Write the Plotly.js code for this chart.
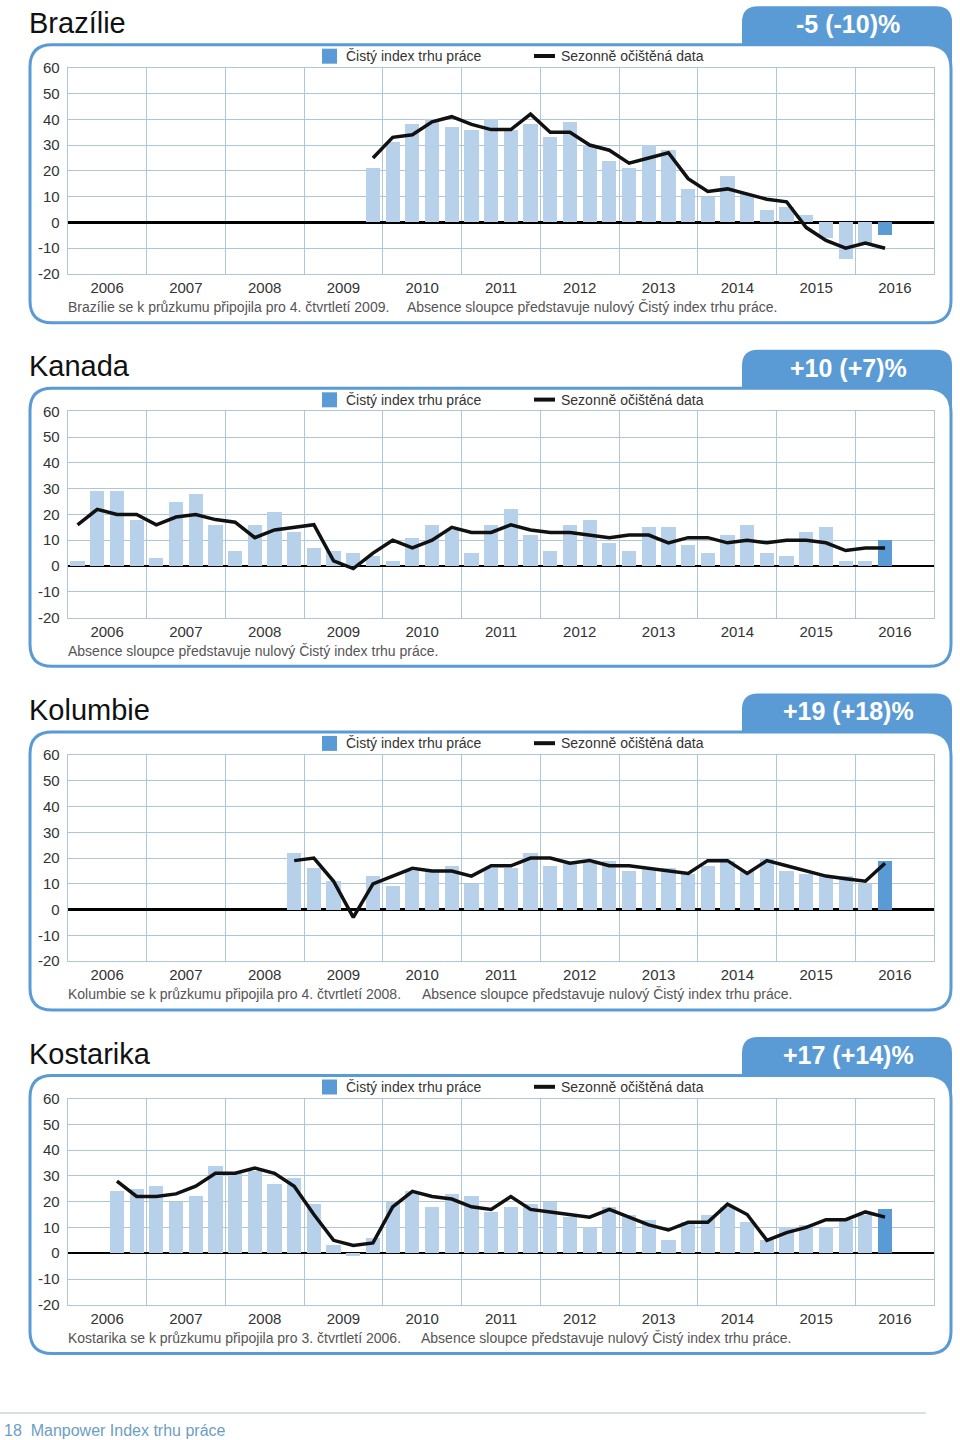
<!DOCTYPE html>
<html>
<head>
<meta charset="utf-8">
<script src="https://cdn.plot.ly/plotly-3.0.1.min.js"></script>
<style>html,body{margin:0;padding:0;background:#fff;}#chart{width:960px;height:1440px;}</style>
</head>
<body>
<div id="chart"></div>
<script>
// ---------- DATA ----------
const years = ['2006','2007','2008','2009','2010','2011','2012','2013','2014','2015','2016'];
const quarters = [
 '2006 Q1','2006 Q2','2006 Q3','2006 Q4','2007 Q1','2007 Q2','2007 Q3','2007 Q4',
 '2008 Q1','2008 Q2','2008 Q3','2008 Q4','2009 Q1','2009 Q2','2009 Q3','2009 Q4',
 '2010 Q1','2010 Q2','2010 Q3','2010 Q4','2011 Q1','2011 Q2','2011 Q3','2011 Q4',
 '2012 Q1','2012 Q2','2012 Q3','2012 Q4','2013 Q1','2013 Q2','2013 Q3','2013 Q4',
 '2014 Q1','2014 Q2','2014 Q3','2014 Q4','2015 Q1','2015 Q2','2015 Q3','2015 Q4',
 '2016 Q1','2016 Q2'];
const yTickVals = [-20, -10, 0, 10, 20, 30, 40, 50, 60];
const yTickText = ['-20', '-10', '0', '10', '20', '30', '40', '50', '60'];

const countries = ['Brazílie','Kanada','Kolumbie','Kostarika'];
const headline  = ['-5 (-10)%','+10 (+7)%','+19 (+18)%','+17 (+14)%'];
const footnoteJoined = [
 'Brazílie se k průzkumu připojila pro 4. čtvrtletí 2009.',
 '',
 'Kolumbie se k průzkumu připojila pro 4. čtvrtletí 2008.',
 'Kostarika se k průzkumu připojila pro 3. čtvrtletí 2006.'];
const footnoteAbsence = 'Absence sloupce představuje nulový Čistý index trhu práce.';

const brazilNEI = [null,null,null,null,null,null,null,null,null,null,null,null,null,null,null,
 21,31,38,40,37,36,40,36,38,33,39,30,24,21,30,28,13,10,18,11,5,6,3,-6,-14,-8,-5];
const brazilSA  = [null,null,null,null,null,null,null,null,null,null,null,null,null,null,null,
 25,33,34,39,41,38,36,36,42,35,35,30,28,23,25,27,17,12,13,11,9,8,-2,-7,-10,-8,-10];

const kanadaNEI = [2,29,29,18,3,25,28,16,6,16,21,13,7,6,5,4,2,11,16,14,5,16,22,12,6,16,18,9,6,15,15,8,5,12,16,5,4,13,15,2,2,10];
const kanadaSA  = [16,22,20,20,16,19,20,18,17,11,14,15,16,2,-1,5,10,7,10,15,13,13,16,14,13,13,12,11,12,12,9,11,11,9,10,9,10,10,9,6,7,7];

const kolumbieNEI = [null,null,null,null,null,null,null,null,null,null,null,
 22,16,11,0,13,9,15,15,17,10,16,16,22,17,18,18,19,15,16,16,14,17,19,15,20,15,14,13,13,10,19];
const kolumbieSA  = [null,null,null,null,null,null,null,null,null,null,null,
 19,20,11,-3,10,13,16,15,15,13,17,17,20,20,18,19,17,17,16,15,14,19,19,14,19,17,15,13,12,11,18];

const kostarikaNEI = [null,null,
 24,25,26,20,22,34,31,32,27,29,19,3,-1,6,20,24,18,23,22,16,18,19,20,14,10,18,15,13,5,12,15,18,12,5,10,11,10,13,15,17];
const kostarikaSA  = [null,null,
 28,22,22,23,26,31,31,33,31,26,15,5,3,4,18,24,22,21,18,17,22,17,16,15,14,17,14,11,9,12,12,19,15,5,8,10,13,13,16,14];

const seriesNEI = [brazilNEI, kanadaNEI, kolumbieNEI, kostarikaNEI];
const seriesSA  = [brazilSA, kanadaSA, kolumbieSA, kostarikaSA];

// ---------- STYLE ----------
const W = 960, H = 1440;
const BLUE = '#5b9bd5', LIGHT = '#b8d1ea', GRID = '#adc6d8';
const FONT = 'Liberation Sans, Arial, sans-serif';
const PX = v => v / W, PY = v => 1 - v / H;
const plotTops = [67.7, 411.3, 754.9, 1098.5];
const plotH = 206.3, plotL = 67.7, plotR = 934.3;

const xIdx = quarters.map((_, i) => i);
const traces = [], shapes = [], annotations = [];
const layout = {
  width: W, height: H, margin: {l:0, r:0, t:0, b:0},
  paper_bgcolor: '#fff', plot_bgcolor: 'rgba(0,0,0,0)',
  showlegend: false, font: {family: FONT, color: '#333'},
  bargap: 0
};

function roundRect(x0, y0, x1, y1, rTL, rTR, rBR, rBL) {
  const p = (x, y) => PX(x) + ',' + PY(y);
  return 'M' + p(x0 + rTL, y0) + ' L' + p(x1 - rTR, y0) + ' Q' + p(x1, y0) + ' ' + p(x1, y0 + rTR) +
    ' L' + p(x1, y1 - rBR) + ' Q' + p(x1, y1) + ' ' + p(x1 - rBR, y1) +
    ' L' + p(x0 + rBL, y1) + ' Q' + p(x0, y1) + ' ' + p(x0, y1 - rBL) +
    ' L' + p(x0, y0 + rTL) + ' Q' + p(x0, y0) + ' ' + p(x0 + rTL, y0) + ' Z';
}

countries.forEach((name, p) => {
  const n = p + 1, xa = 'x' + (n === 1 ? '' : n), ya = 'y' + (n === 1 ? '' : n);
  const top = plotTops[p];
  const nei = seriesNEI[p];
  const colors = nei.map((_, i) => i === nei.length - 1 ? BLUE : LIGHT);

  traces.push({type: 'bar', x: xIdx, y: nei, xaxis: xa, yaxis: ya, width: 0.72,
    marker: {color: colors, line: {width: 0}}, name: 'Čistý index trhu práce',
    customdata: quarters, textposition: 'none', hovertemplate: '%{customdata}: %{y}<extra></extra>'});
  traces.push({type: 'scatter', mode: 'lines', x: xIdx, y: seriesSA[p], xaxis: xa, yaxis: ya,
    line: {color: '#111', width: 3.5}, connectgaps: false, name: 'Sezonně očištěná data',
    customdata: quarters, hovertemplate: '%{customdata}: %{y}<extra></extra>'});

  layout['xaxis' + (n === 1 ? '' : n)] = {
    domain: [PX(plotL), PX(plotR)], anchor: ya, range: [-0.5, 43.5],
    tickmode: 'array', tickvals: years.map((_, k) => 4 * k + 1.5), ticktext: years,
    showgrid: false, zeroline: false, ticks: '',
    minor: {tickmode: 'linear', tick0: -0.5, dtick: 4, showgrid: true, gridcolor: GRID, gridwidth: 1, ticks: ''},
    showline: true, mirror: true, linecolor: GRID, linewidth: 1,
    tickfont: {size: 15, color: '#333', family: FONT}, fixedrange: true
  };
  layout['yaxis' + (n === 1 ? '' : n)] = {
    domain: [PY(top + plotH), PY(top)], anchor: xa, range: [-20, 60],
    tickmode: 'array', tickvals: yTickVals, ticktext: yTickText,
    showgrid: true, gridcolor: GRID, gridwidth: 1,
    zeroline: true, zerolinecolor: '#000', zerolinewidth: 2.5,
    showline: true, mirror: true, linecolor: GRID, linewidth: 1, ticks: '',
    ticklabelstandoff: 4,
    tickfont: {size: 15, color: '#333', family: FONT}, fixedrange: true
  };

  // tab
  shapes.push({type: 'path', xref: 'paper', yref: 'paper', layer: 'below',
    path: roundRect(742, top - 61.5, 952, top - 5, 16, 16, 0, 0),
    fillcolor: BLUE, line: {width: 0}});
  // panel
  shapes.push({type: 'path', xref: 'paper', yref: 'paper', layer: 'below',
    path: roundRect(30, top - 23, 951, top + 255, 22, 24, 22, 22),
    fillcolor: '#fff', line: {color: BLUE, width: 3}});
  // legend marks
  shapes.push({type: 'rect', xref: 'paper', yref: 'paper', layer: 'above',
    x0: PX(322), x1: PX(337), y0: PY(top - 4), y1: PY(top - 19), fillcolor: BLUE, line: {width: 0}});
  shapes.push({type: 'line', xref: 'paper', yref: 'paper', layer: 'above',
    x0: PX(534), x1: PX(555), y0: PY(top - 11.7), y1: PY(top - 11.7), line: {color: '#111', width: 4}});

  annotations.push({xref: 'paper', yref: 'paper', x: PX(344), y: PY(top - 11.7), xanchor: 'left', yanchor: 'middle',
    text: 'Čistý index trhu práce', showarrow: false, font: {size: 14, color: '#333', family: FONT}});
  annotations.push({xref: 'paper', yref: 'paper', x: PX(559), y: PY(top - 11.7), xanchor: 'left', yanchor: 'middle',
    text: 'Sezonně očištěná data', showarrow: false, font: {size: 14, color: '#333', family: FONT}});
  // title
  annotations.push({xref: 'paper', yref: 'paper', x: PX(27), y: PY(top - 45), xanchor: 'left', yanchor: 'middle',
    text: name, showarrow: false, font: {size: 29, color: '#111', family: FONT}});
  // headline in tab
  annotations.push({xref: 'paper', yref: 'paper', x: PX(848), y: PY(top - 43.5), xanchor: 'center', yanchor: 'middle',
    text: '<b>' + headline[p] + '</b>', showarrow: false, font: {size: 25, color: '#fff', family: FONT}});
  // footnotes
  const fy = PY(top + 239.5);
  if (footnoteJoined[p]) {
    annotations.push({xref: 'paper', yref: 'paper', x: PX(66), y: fy, xanchor: 'left', yanchor: 'middle',
      text: footnoteJoined[p], showarrow: false, font: {size: 14, color: '#555', family: FONT}});
  }
  const absX = [405, 66, 420, 419][p];
  annotations.push({xref: 'paper', yref: 'paper', x: PX(absX), y: fy, xanchor: 'left', yanchor: 'middle',
    text: footnoteAbsence, showarrow: false, font: {size: 14, color: '#555', family: FONT}});
});

// footer
shapes.push({type: 'line', xref: 'paper', yref: 'paper', layer: 'above',
  x0: 0, x1: PX(926), y0: PY(1413), y1: PY(1413), line: {color: '#a9c3d5', width: 1.2}});
annotations.push({xref: 'paper', yref: 'paper', x: PX(2), y: PY(1430), xanchor: 'left', yanchor: 'middle',
  text: '18  Manpower Index trhu práce', showarrow: false, font: {size: 16, color: '#6b9ec4', family: FONT}});

layout.shapes = shapes;
layout.annotations = annotations;

Plotly.newPlot('chart', traces, layout, {staticPlot: true, displayModeBar: false});
</script>
</body>
</html>
